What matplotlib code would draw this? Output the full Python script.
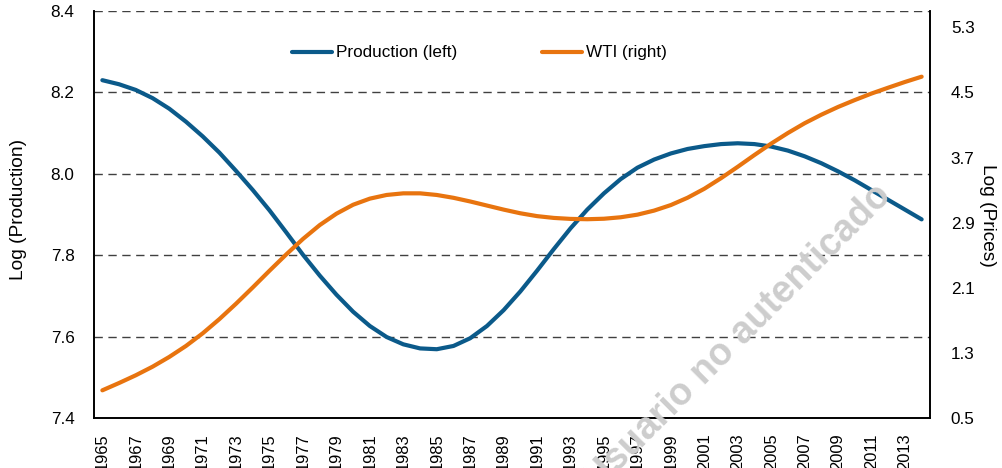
import matplotlib
matplotlib.use("Agg")
import matplotlib.pyplot as plt

plt.rcParams['font.family'] = ['Liberation Sans', 'DejaVu Sans']

years = list(range(1965, 2015))
production = [8.230, 8.220, 8.206, 8.186, 8.160, 8.128, 8.092, 8.052, 8.007, 7.960,
              7.910, 7.856, 7.801, 7.750, 7.703, 7.661, 7.626, 7.599, 7.581, 7.571,
              7.569, 7.577, 7.596, 7.626, 7.665, 7.711, 7.762, 7.815, 7.866, 7.912,
              7.952, 7.987, 8.015, 8.035, 8.050, 8.061, 8.068, 8.073, 8.075, 8.073,
              8.067, 8.057, 8.043, 8.026, 8.006, 7.984, 7.960, 7.936, 7.912, 7.888]
wti = [0.840, 0.930, 1.025, 1.130, 1.250, 1.385, 1.540, 1.715, 1.905, 2.105,
       2.310, 2.510, 2.700, 2.870, 3.010, 3.120, 3.195, 3.240, 3.260, 3.260,
       3.240, 3.205, 3.160, 3.110, 3.060, 3.015, 2.980, 2.958, 2.946, 2.942,
       2.948, 2.966, 2.998, 3.048, 3.116, 3.206, 3.316, 3.446, 3.586, 3.731,
       3.871, 4.001, 4.121, 4.226, 4.321, 4.406, 4.486, 4.558, 4.628, 4.693]
xtick_years = list(range(1965, 2014, 2))
left_ticks = [7.4, 7.6, 7.8, 8.0, 8.2, 8.4]
right_ticks = [0.5, 1.3, 2.1, 2.9, 3.7, 4.5, 5.3]

blue = '#0b5a8a'
orange = '#e8740f'

fig = plt.figure(figsize=(10.03, 4.68), dpi=100)
ax = fig.add_axes([94/1003, 1-418/468, (930-94)/1003, (418-11)/468])
ax2 = ax.twinx()

# gridlines
for v in [7.6, 7.8, 8.0, 8.2, 8.4]:
    ax.axhline(v, color='#404040', lw=1.0, ls=(0, (6, 4)), zorder=1)

l1, = ax.plot(years, production, color=blue, lw=3.0, solid_capstyle='round',
              solid_joinstyle='round', zorder=3, label='Production (left)')
l2, = ax2.plot(years, wti, color=orange, lw=3.0, solid_capstyle='round',
               solid_joinstyle='round', zorder=3, label='WTI (right)')

ax.set_xlim(1964.5, 2014.5)
ax.set_ylim(7.4, 8.4)
ax2.set_ylim(0.5, 5.5)
ax.set_yticks(left_ticks)
ax.set_yticklabels([f'{v:.1f}' for v in left_ticks], fontsize=12.3)
ax2.set_yticks(right_ticks)
ax2.set_yticklabels([f'{v:.1f}' for v in right_ticks], fontsize=12.3)
ax.set_xticks(xtick_years)
ax.set_xticklabels([str(y) for y in xtick_years], rotation=90, fontsize=11.9)

ax.tick_params(axis='y', length=0, pad=14)
ax2.tick_params(axis='y', length=0, pad=15)
ax.tick_params(axis='x', length=0, pad=11)

for a in (ax, ax2):
    a.spines['top'].set_visible(False)
    for s in ['left', 'right', 'bottom']:
        a.spines[s].set_linewidth(1.2)
        a.spines[s].set_color('black')

ax.set_ylabel('Log (Production)', fontsize=13.8)
ax.yaxis.set_label_coords(-(94-27)/836, (418-209)/407)
ax2.set_ylabel('Log (Prices)', fontsize=13.8, rotation=270, va='center')
ax2.yaxis.set_label_coords(1+(988-930)/836, (418-215)/407)

leg = fig.legend(handles=[l1, l2], loc='center left', ncol=2, frameon=False,
                 bbox_to_anchor=(292/1003, 1-53/468), bbox_transform=fig.transFigure,
                 borderpad=0, borderaxespad=0, fontsize=12.3,
                 handlelength=2.35, handletextpad=0.2, columnspacing=5.0)

fig.text(738/1003, 1-338/468, 'Usuario no autenticado', fontsize=27, fontweight='bold',
         color='#cdcdcd', rotation=45, rotation_mode='anchor', ha='center', va='center',
         zorder=10)

fig.savefig('out.png', dpi=100)
